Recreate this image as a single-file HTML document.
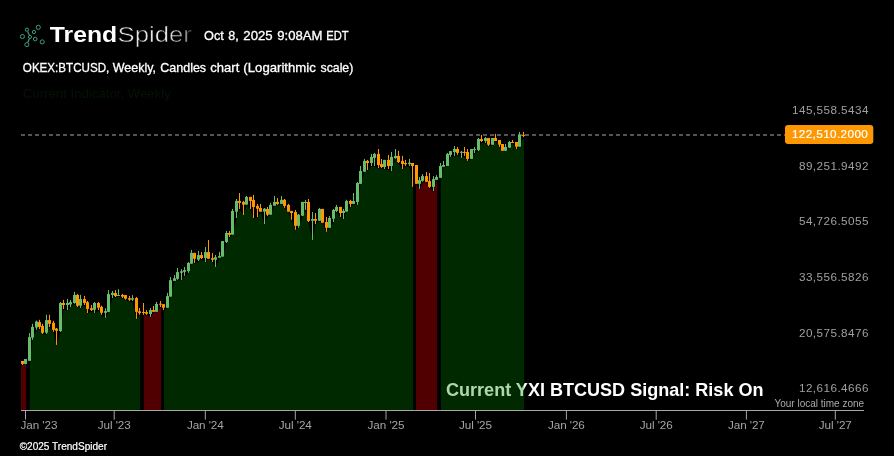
<!DOCTYPE html>
<html><head><meta charset="utf-8"><title>TrendSpider chart</title>
<style>
html,body{margin:0;padding:0;background:#000;}
body{width:894px;height:456px;overflow:hidden;font-family:"Liberation Sans",sans-serif;}
svg{display:block;will-change:transform;}
text{font-family:"Liberation Sans",sans-serif;}
.tl{font-size:11.7px;fill:#a4a4a4;letter-spacing:-0.08px}
.yl{font-size:11.7px;fill:#a0a0a0;letter-spacing:0.45px}
</style></head><body>
<svg width="894" height="456" viewBox="0 0 894 456">
<!-- logo -->
<path d="M27.6 31.4 L29.4 35.3 M29.3 38.5 L27.8 42.5" stroke="#3f9f84" stroke-width="1.2" fill="none"/>
<circle cx="26.9" cy="29.7" r="1.65" fill="none" stroke="#3f9f84" stroke-width="1"/>
<circle cx="38.3" cy="27.3" r="2.05" fill="none" stroke="#3f9f84" stroke-width="1"/>
<circle cx="33.9" cy="32.0" r="1.65" fill="none" stroke="#3f9f84" stroke-width="1"/>
<circle cx="22.4" cy="36.5" r="2.05" fill="none" stroke="#3f9f84" stroke-width="1"/>
<circle cx="30.0" cy="36.9" r="1.55" fill="none" stroke="#3f9f84" stroke-width="1"/>
<circle cx="35.2" cy="39.0" r="1.85" fill="none" stroke="#3f9f84" stroke-width="1"/>
<circle cx="42.2" cy="41.9" r="2.05" fill="none" stroke="#3f9f84" stroke-width="1"/>
<circle cx="26.9" cy="44.6" r="2.05" fill="none" stroke="#3f9f84" stroke-width="1"/>
<text x="49.8" y="42.0" font-size="22.2" font-weight="bold" fill="#fff" textLength="67.3" lengthAdjust="spacingAndGlyphs">Trend</text>
<defs><linearGradient id="sg" gradientUnits="userSpaceOnUse" x1="168" y1="0" x2="191" y2="0"><stop offset="0" stop-color="#e6e6e6"/><stop offset="1" stop-color="#7c7c7c"/></linearGradient></defs>
<text x="117.6" y="42.0" font-size="22" fill="url(#sg)" stroke="#000" stroke-width="0.5" textLength="74.2" lengthAdjust="spacingAndGlyphs">Spider</text>
<text x="204.00" y="39.8" font-size="12.4" fill="#fff" stroke="#fff" stroke-width="0.3" textLength="19.77" lengthAdjust="spacingAndGlyphs">Oct</text>
<text x="228.15" y="39.8" font-size="12.4" fill="#fff" stroke="#fff" stroke-width="0.3" textLength="10.53" lengthAdjust="spacingAndGlyphs">8,</text>
<text x="243.37" y="39.8" font-size="12.4" fill="#fff" stroke="#fff" stroke-width="0.3" textLength="29.31" lengthAdjust="spacingAndGlyphs">2025</text>
<text x="277.34" y="39.8" font-size="12.4" fill="#fff" stroke="#fff" stroke-width="0.3" textLength="45.18" lengthAdjust="spacingAndGlyphs">9:08AM</text>
<text x="326.21" y="39.8" font-size="12.4" fill="#fff" stroke="#fff" stroke-width="0.3" textLength="22.36" lengthAdjust="spacingAndGlyphs">EDT</text>
<text x="22.85" y="71.7" font-size="12.2" fill="#fff" stroke="#fff" stroke-width="0.3" textLength="86.46" lengthAdjust="spacingAndGlyphs">OKEX:BTCUSD,</text>
<text x="112.69" y="71.7" font-size="12.2" fill="#fff" stroke="#fff" stroke-width="0.3" textLength="43.31" lengthAdjust="spacingAndGlyphs">Weekly,</text>
<text x="160.26" y="71.7" font-size="12.2" fill="#fff" stroke="#fff" stroke-width="0.3" textLength="45.86" lengthAdjust="spacingAndGlyphs">Candles</text>
<text x="210.37" y="71.7" font-size="12.2" fill="#fff" stroke="#fff" stroke-width="0.3" textLength="28.98" lengthAdjust="spacingAndGlyphs">chart</text>
<text x="243.39" y="71.7" font-size="12.2" fill="#fff" stroke="#fff" stroke-width="0.3" textLength="72.47" lengthAdjust="spacingAndGlyphs">(Logarithmic</text>
<text x="320.50" y="71.7" font-size="12.2" fill="#fff" stroke="#fff" stroke-width="0.3" textLength="32.81" lengthAdjust="spacingAndGlyphs">scale)</text>
<text x="22.8" y="97.7" font-size="13" fill="#041305" textLength="148" lengthAdjust="spacingAndGlyphs">Current Indicator, Weekly</text>
<!-- dashed price line -->
<line x1="21" y1="135" x2="785" y2="135" stroke="#aaaaaa" stroke-width="1" stroke-dasharray="4 3"/>
<!-- signal text (under fill) -->
<text x="446" y="396.3" font-size="17.8" font-weight="bold" fill="#fff" textLength="317.5" lengthAdjust="spacingAndGlyphs">Current YXI BTCUSD Signal: Risk On</text>
<!-- fills -->
<path d="M21.0 410.4 L21.0 365.4 L25.5 364.8 L26.1 364.8 L26.1 410.4Z" fill="rgba(255,0,0,0.315)"/>
<path d="M29.9 410.4 L29.9 361.2 L32.5 340.3 L36.5 330.2 L39.5 329.4 L42.5 334.4 L46.5 334.4 L49.5 327.4 L53.5 332.2 L56.5 345.3 L60.5 332.4 L63.5 309.4 L67.5 310.4 L70.5 307.6 L74.5 304.1 L77.5 307.4 L80.5 308.4 L84.5 305.4 L87.5 313.4 L91.5 311.4 L94.5 313.4 L98.5 310.4 L101.5 315.2 L105.5 318.2 L108.5 312.2 L112.5 298.4 L115.5 297.4 L118.5 296.3 L122.5 298.4 L125.5 300.1 L129.5 301.4 L132.5 301.4 L136.5 319.2 L139.5 315.2 L140.1 315.2 L140.1 410.4Z" fill="rgba(0,128,0,0.32)"/>
<path d="M143.9 410.4 L143.9 315.2 L146.5 315.2 L150.5 317.2 L153.5 312.2 L156.5 312.2 L160.5 307.4 L161.1 307.4 L161.1 410.4Z" fill="rgba(255,0,0,0.315)"/>
<path d="M163.9 410.4 L163.9 310.5 L167.5 308.1 L170.5 297.0 L174.5 281.3 L177.5 280.3 L181.5 280.3 L184.5 276.2 L188.5 273.2 L191.5 264.1 L194.5 263.4 L198.5 261.4 L201.5 259.4 L205.5 262.4 L208.5 259.1 L212.5 262.4 L215.5 267.4 L219.5 258.1 L222.5 257.0 L226.5 243.4 L229.5 237.4 L232.5 235.0 L236.5 218.4 L239.5 209.4 L243.5 215.4 L246.5 205.0 L250.5 209.4 L253.5 218.4 L257.5 217.4 L260.5 212.1 L264.5 224.5 L267.5 216.4 L270.5 215.1 L274.5 206.1 L277.5 205.3 L281.5 204.3 L284.5 208.3 L288.5 212.0 L291.5 220.1 L295.5 230.2 L298.5 228.2 L302.5 216.1 L305.5 210.3 L308.5 222.4 L312.5 240.3 L315.5 224.5 L319.5 221.1 L322.5 223.1 L326.5 232.2 L329.5 228.2 L333.5 222.4 L336.5 212.4 L340.5 217.4 L343.5 219.4 L346.5 212.0 L350.5 207.3 L353.5 204.3 L357.5 205.3 L360.5 184.2 L364.5 172.1 L367.5 170.4 L371.5 166.4 L374.5 166.4 L378.5 168.4 L381.5 168.4 L384.5 169.4 L388.5 169.4 L391.5 171.4 L395.5 159.3 L398.5 163.4 L402.5 169.4 L405.5 166.4 L409.5 166.4 L412.5 187.3 L413.1 187.3 L413.1 410.4Z" fill="rgba(0,128,0,0.32)"/>
<path d="M416.0 410.4 L416.0 184.2 L419.5 189.3 L422.5 182.2 L426.5 182.2 L429.5 188.3 L433.5 191.4 L436.5 180.2 L437.1 180.2 L437.1 410.4Z" fill="rgba(255,0,0,0.315)"/>
<path d="M440.9 410.4 L440.9 178.2 L443.5 167.1 L447.5 166.4 L450.5 157.3 L454.5 156.3 L457.5 155.3 L461.5 158.3 L464.5 156.3 L467.5 161.3 L471.5 159.3 L474.5 153.4 L478.5 151.5 L481.5 142.4 L485.5 143.4 L488.5 146.4 L492.5 145.1 L495.5 141.4 L499.5 147.4 L502.5 151.2 L505.5 151.2 L509.5 148.1 L512.5 143.4 L516.5 149.5 L519.5 147.1 L523.5 137.4 L524.1 137.4 L524.1 410.4Z" fill="rgba(0,128,0,0.32)"/>
<!-- candles -->
<rect x="22.0" y="361.0" width="1" height="4.0" fill="#ff9800"/>
<rect x="21.0" y="361.0" width="3" height="2.9" fill="#ff9800"/>
<rect x="25.0" y="359.0" width="1" height="5.4" fill="#68bd6c"/>
<rect x="24.0" y="359.0" width="3" height="4.9" fill="#68bd6c"/>
<rect x="29.0" y="333.1" width="1" height="27.7" fill="#68bd6c"/>
<rect x="28.0" y="337.1" width="3" height="23.7" fill="#68bd6c"/>
<rect x="32.0" y="323.8" width="1" height="16.1" fill="#68bd6c"/>
<rect x="31.0" y="326.9" width="3" height="10.7" fill="#68bd6c"/>
<rect x="36.0" y="320.5" width="1" height="9.3" fill="#68bd6c"/>
<rect x="35.0" y="321.5" width="3" height="6.0" fill="#68bd6c"/>
<rect x="39.0" y="319.8" width="1" height="9.2" fill="#ff9800"/>
<rect x="38.0" y="322.1" width="3" height="4.8" fill="#ff9800"/>
<rect x="42.0" y="323.8" width="1" height="10.2" fill="#ff9800"/>
<rect x="41.0" y="325.9" width="3" height="6.9" fill="#ff9800"/>
<rect x="46.0" y="314.8" width="1" height="19.2" fill="#68bd6c"/>
<rect x="45.0" y="320.1" width="3" height="12.5" fill="#68bd6c"/>
<rect x="49.0" y="314.8" width="1" height="12.2" fill="#ff9800"/>
<rect x="48.0" y="320.1" width="3" height="3.7" fill="#ff9800"/>
<rect x="53.0" y="320.8" width="1" height="11.0" fill="#ff9800"/>
<rect x="52.0" y="322.8" width="3" height="7.0" fill="#ff9800"/>
<rect x="56.0" y="328.0" width="1" height="16.9" fill="#ff9800"/>
<rect x="55.0" y="328.6" width="3" height="2.2" fill="#ff9800"/>
<rect x="60.0" y="302.0" width="1" height="30.0" fill="#68bd6c"/>
<rect x="59.0" y="303.0" width="3" height="28.0" fill="#68bd6c"/>
<rect x="63.0" y="299.9" width="1" height="9.1" fill="#ff9800"/>
<rect x="62.0" y="303.0" width="3" height="2.0" fill="#ff9800"/>
<rect x="67.0" y="298.9" width="1" height="11.1" fill="#68bd6c"/>
<rect x="66.0" y="303.0" width="3" height="2.0" fill="#68bd6c"/>
<rect x="70.0" y="300.1" width="1" height="7.1" fill="#68bd6c"/>
<rect x="69.0" y="302.2" width="3" height="2.2" fill="#68bd6c"/>
<rect x="74.0" y="291.9" width="1" height="11.8" fill="#68bd6c"/>
<rect x="73.0" y="294.9" width="3" height="8.1" fill="#68bd6c"/>
<rect x="77.0" y="293.9" width="1" height="13.1" fill="#ff9800"/>
<rect x="76.0" y="294.9" width="3" height="10.8" fill="#ff9800"/>
<rect x="80.0" y="294.9" width="1" height="13.1" fill="#68bd6c"/>
<rect x="79.0" y="299.1" width="3" height="6.6" fill="#68bd6c"/>
<rect x="84.0" y="295.9" width="1" height="9.1" fill="#ff9800"/>
<rect x="83.0" y="299.1" width="3" height="3.9" fill="#ff9800"/>
<rect x="87.0" y="300.9" width="1" height="12.1" fill="#ff9800"/>
<rect x="86.0" y="302.2" width="3" height="6.8" fill="#ff9800"/>
<rect x="91.0" y="305.0" width="1" height="6.0" fill="#ff9800"/>
<rect x="90.0" y="308.2" width="3" height="1.8" fill="#ff9800"/>
<rect x="94.0" y="302.0" width="1" height="11.0" fill="#68bd6c"/>
<rect x="93.0" y="303.0" width="3" height="6.7" fill="#68bd6c"/>
<rect x="98.0" y="302.0" width="1" height="8.0" fill="#ff9800"/>
<rect x="97.0" y="303.0" width="3" height="4.7" fill="#ff9800"/>
<rect x="101.0" y="305.7" width="1" height="9.1" fill="#ff9800"/>
<rect x="100.0" y="306.8" width="3" height="6.0" fill="#ff9800"/>
<rect x="105.0" y="308.3" width="1" height="9.5" fill="#68bd6c"/>
<rect x="104.0" y="311.1" width="3" height="1.7" fill="#68bd6c"/>
<rect x="108.0" y="290.1" width="1" height="21.7" fill="#68bd6c"/>
<rect x="107.0" y="294.1" width="3" height="17.7" fill="#68bd6c"/>
<rect x="112.0" y="290.9" width="1" height="7.1" fill="#68bd6c"/>
<rect x="111.0" y="292.9" width="3" height="2.0" fill="#68bd6c"/>
<rect x="115.0" y="290.1" width="1" height="6.9" fill="#ff9800"/>
<rect x="114.0" y="293.1" width="3" height="3.0" fill="#ff9800"/>
<rect x="118.0" y="289.1" width="1" height="6.8" fill="#68bd6c"/>
<rect x="117.0" y="295.0" width="3" height="1.0" fill="#68bd6c"/>
<rect x="122.0" y="293.9" width="1" height="4.1" fill="#ff9800"/>
<rect x="121.0" y="294.9" width="3" height="1.7" fill="#ff9800"/>
<rect x="125.0" y="295.1" width="1" height="4.6" fill="#ff9800"/>
<rect x="124.0" y="295.1" width="3" height="3.6" fill="#ff9800"/>
<rect x="129.0" y="295.9" width="1" height="5.1" fill="#ff9800"/>
<rect x="128.0" y="298.2" width="3" height="1.5" fill="#ff9800"/>
<rect x="132.0" y="295.1" width="1" height="5.9" fill="#68bd6c"/>
<rect x="131.0" y="298.2" width="3" height="1.5" fill="#68bd6c"/>
<rect x="136.0" y="297.0" width="1" height="21.8" fill="#ff9800"/>
<rect x="135.0" y="298.0" width="3" height="13.8" fill="#ff9800"/>
<rect x="139.0" y="308.0" width="1" height="6.8" fill="#ff9800"/>
<rect x="138.0" y="311.3" width="3" height="1.8" fill="#ff9800"/>
<rect x="143.0" y="303.0" width="1" height="11.8" fill="#ff9800"/>
<rect x="142.0" y="312.0" width="3" height="1.0" fill="#ff9800"/>
<rect x="146.0" y="310.1" width="1" height="4.7" fill="#ff9800"/>
<rect x="145.0" y="312.1" width="3" height="1.7" fill="#ff9800"/>
<rect x="150.0" y="308.0" width="1" height="8.8" fill="#68bd6c"/>
<rect x="149.0" y="310.1" width="3" height="4.0" fill="#68bd6c"/>
<rect x="153.0" y="306.0" width="1" height="5.8" fill="#ff9800"/>
<rect x="152.0" y="310.1" width="3" height="1.7" fill="#ff9800"/>
<rect x="156.0" y="302.0" width="1" height="9.8" fill="#68bd6c"/>
<rect x="155.0" y="304.0" width="3" height="7.8" fill="#68bd6c"/>
<rect x="160.0" y="301.0" width="1" height="6.0" fill="#ff9800"/>
<rect x="159.0" y="303.7" width="3" height="1.0" fill="#ff9800"/>
<rect x="163.0" y="304.2" width="1" height="5.9" fill="#ff9800"/>
<rect x="162.0" y="304.2" width="3" height="3.5" fill="#ff9800"/>
<rect x="167.0" y="292.9" width="1" height="14.8" fill="#68bd6c"/>
<rect x="166.0" y="296.1" width="3" height="11.6" fill="#68bd6c"/>
<rect x="170.0" y="277.1" width="1" height="19.5" fill="#68bd6c"/>
<rect x="169.0" y="280.2" width="3" height="16.4" fill="#68bd6c"/>
<rect x="174.0" y="275.1" width="1" height="5.8" fill="#68bd6c"/>
<rect x="173.0" y="278.3" width="3" height="2.6" fill="#68bd6c"/>
<rect x="177.0" y="268.0" width="1" height="11.9" fill="#68bd6c"/>
<rect x="176.0" y="272.1" width="3" height="6.7" fill="#68bd6c"/>
<rect x="181.0" y="269.1" width="1" height="10.8" fill="#68bd6c"/>
<rect x="180.0" y="271.3" width="3" height="1.5" fill="#68bd6c"/>
<rect x="184.0" y="267.0" width="1" height="8.8" fill="#68bd6c"/>
<rect x="183.0" y="270.1" width="3" height="1.7" fill="#68bd6c"/>
<rect x="188.0" y="262.0" width="1" height="10.8" fill="#68bd6c"/>
<rect x="187.0" y="263.0" width="3" height="8.1" fill="#68bd6c"/>
<rect x="191.0" y="249.9" width="1" height="13.8" fill="#68bd6c"/>
<rect x="190.0" y="252.9" width="3" height="10.8" fill="#68bd6c"/>
<rect x="194.0" y="252.9" width="1" height="10.1" fill="#ff9800"/>
<rect x="193.0" y="252.9" width="3" height="5.8" fill="#ff9800"/>
<rect x="198.0" y="250.9" width="1" height="10.1" fill="#68bd6c"/>
<rect x="197.0" y="255.1" width="3" height="4.6" fill="#68bd6c"/>
<rect x="201.0" y="251.9" width="1" height="7.1" fill="#ff9800"/>
<rect x="200.0" y="255.1" width="3" height="2.9" fill="#ff9800"/>
<rect x="205.0" y="246.9" width="1" height="15.1" fill="#68bd6c"/>
<rect x="204.0" y="252.1" width="3" height="5.9" fill="#68bd6c"/>
<rect x="208.0" y="240.0" width="1" height="18.7" fill="#ff9800"/>
<rect x="207.0" y="252.1" width="3" height="6.6" fill="#ff9800"/>
<rect x="212.0" y="252.9" width="1" height="9.1" fill="#ff9800"/>
<rect x="211.0" y="258.2" width="3" height="1.5" fill="#ff9800"/>
<rect x="215.0" y="254.9" width="1" height="12.1" fill="#68bd6c"/>
<rect x="214.0" y="257.2" width="3" height="2.5" fill="#68bd6c"/>
<rect x="219.0" y="251.9" width="1" height="5.8" fill="#68bd6c"/>
<rect x="218.0" y="256.1" width="3" height="1.6" fill="#68bd6c"/>
<rect x="222.0" y="241.0" width="1" height="15.6" fill="#68bd6c"/>
<rect x="221.0" y="241.0" width="3" height="15.6" fill="#68bd6c"/>
<rect x="226.0" y="230.9" width="1" height="12.1" fill="#68bd6c"/>
<rect x="225.0" y="233.0" width="3" height="9.0" fill="#68bd6c"/>
<rect x="229.0" y="230.9" width="1" height="6.1" fill="#ff9800"/>
<rect x="228.0" y="233.0" width="3" height="1.8" fill="#ff9800"/>
<rect x="232.0" y="209.0" width="1" height="25.6" fill="#68bd6c"/>
<rect x="231.0" y="211.0" width="3" height="23.6" fill="#68bd6c"/>
<rect x="236.0" y="198.9" width="1" height="19.1" fill="#68bd6c"/>
<rect x="235.0" y="200.9" width="3" height="10.8" fill="#68bd6c"/>
<rect x="239.0" y="193.0" width="1" height="16.0" fill="#ff9800"/>
<rect x="238.0" y="200.9" width="3" height="2.0" fill="#ff9800"/>
<rect x="243.0" y="200.9" width="1" height="14.1" fill="#ff9800"/>
<rect x="242.0" y="201.9" width="3" height="2.7" fill="#ff9800"/>
<rect x="246.0" y="195.9" width="1" height="8.7" fill="#68bd6c"/>
<rect x="245.0" y="196.9" width="3" height="7.7" fill="#68bd6c"/>
<rect x="250.0" y="196.9" width="1" height="12.1" fill="#ff9800"/>
<rect x="249.0" y="196.9" width="3" height="4.0" fill="#ff9800"/>
<rect x="253.0" y="194.8" width="1" height="23.2" fill="#ff9800"/>
<rect x="252.0" y="199.9" width="3" height="7.1" fill="#ff9800"/>
<rect x="257.0" y="203.9" width="1" height="13.1" fill="#ff9800"/>
<rect x="256.0" y="205.9" width="3" height="2.8" fill="#ff9800"/>
<rect x="260.0" y="203.9" width="1" height="7.8" fill="#ff9800"/>
<rect x="259.0" y="208.0" width="3" height="3.7" fill="#ff9800"/>
<rect x="264.0" y="208.0" width="1" height="16.1" fill="#68bd6c"/>
<rect x="263.0" y="208.7" width="3" height="3.0" fill="#68bd6c"/>
<rect x="267.0" y="207.0" width="1" height="9.0" fill="#ff9800"/>
<rect x="266.0" y="209.0" width="3" height="5.7" fill="#ff9800"/>
<rect x="270.0" y="202.9" width="1" height="11.8" fill="#68bd6c"/>
<rect x="269.0" y="204.9" width="3" height="9.8" fill="#68bd6c"/>
<rect x="274.0" y="195.9" width="1" height="9.8" fill="#68bd6c"/>
<rect x="273.0" y="201.9" width="3" height="3.8" fill="#68bd6c"/>
<rect x="277.0" y="197.9" width="1" height="7.0" fill="#ff9800"/>
<rect x="276.0" y="201.9" width="3" height="2.0" fill="#ff9800"/>
<rect x="281.0" y="195.9" width="1" height="8.0" fill="#68bd6c"/>
<rect x="280.0" y="199.8" width="3" height="4.1" fill="#68bd6c"/>
<rect x="284.0" y="199.0" width="1" height="8.9" fill="#ff9800"/>
<rect x="283.0" y="199.8" width="3" height="6.1" fill="#ff9800"/>
<rect x="288.0" y="203.9" width="1" height="7.7" fill="#ff9800"/>
<rect x="287.0" y="204.9" width="3" height="6.7" fill="#ff9800"/>
<rect x="291.0" y="210.9" width="1" height="8.8" fill="#ff9800"/>
<rect x="290.0" y="210.9" width="3" height="2.1" fill="#ff9800"/>
<rect x="295.0" y="209.9" width="1" height="19.9" fill="#ff9800"/>
<rect x="294.0" y="212.0" width="3" height="13.8" fill="#ff9800"/>
<rect x="298.0" y="214.0" width="1" height="13.8" fill="#68bd6c"/>
<rect x="297.0" y="214.7" width="3" height="11.1" fill="#68bd6c"/>
<rect x="302.0" y="201.9" width="1" height="13.8" fill="#68bd6c"/>
<rect x="301.0" y="201.9" width="3" height="13.8" fill="#68bd6c"/>
<rect x="305.0" y="200.0" width="1" height="9.9" fill="#68bd6c"/>
<rect x="304.0" y="202.0" width="3" height="1.0" fill="#68bd6c"/>
<rect x="308.0" y="199.0" width="1" height="23.0" fill="#ff9800"/>
<rect x="307.0" y="202.0" width="3" height="19.0" fill="#ff9800"/>
<rect x="312.0" y="212.0" width="1" height="27.9" fill="#68bd6c"/>
<rect x="311.0" y="219.0" width="3" height="1.7" fill="#68bd6c"/>
<rect x="315.0" y="213.0" width="1" height="11.1" fill="#ff9800"/>
<rect x="314.0" y="219.0" width="3" height="1.7" fill="#ff9800"/>
<rect x="319.0" y="207.9" width="1" height="12.8" fill="#68bd6c"/>
<rect x="318.0" y="208.9" width="3" height="11.8" fill="#68bd6c"/>
<rect x="322.0" y="208.9" width="1" height="13.8" fill="#ff9800"/>
<rect x="321.0" y="208.9" width="3" height="13.8" fill="#ff9800"/>
<rect x="326.0" y="217.0" width="1" height="14.8" fill="#ff9800"/>
<rect x="325.0" y="222.0" width="3" height="5.8" fill="#ff9800"/>
<rect x="329.0" y="216.0" width="1" height="11.8" fill="#68bd6c"/>
<rect x="328.0" y="218.0" width="3" height="9.8" fill="#68bd6c"/>
<rect x="333.0" y="208.9" width="1" height="13.1" fill="#68bd6c"/>
<rect x="332.0" y="209.9" width="3" height="8.8" fill="#68bd6c"/>
<rect x="336.0" y="204.9" width="1" height="7.1" fill="#68bd6c"/>
<rect x="335.0" y="206.9" width="3" height="4.0" fill="#68bd6c"/>
<rect x="340.0" y="206.9" width="1" height="10.1" fill="#ff9800"/>
<rect x="339.0" y="206.9" width="3" height="6.1" fill="#ff9800"/>
<rect x="343.0" y="208.9" width="1" height="10.1" fill="#68bd6c"/>
<rect x="342.0" y="210.9" width="3" height="2.1" fill="#68bd6c"/>
<rect x="346.0" y="199.8" width="1" height="11.8" fill="#68bd6c"/>
<rect x="345.0" y="200.9" width="3" height="10.7" fill="#68bd6c"/>
<rect x="350.0" y="199.8" width="1" height="7.1" fill="#ff9800"/>
<rect x="349.0" y="200.9" width="3" height="3.0" fill="#ff9800"/>
<rect x="353.0" y="193.0" width="1" height="10.9" fill="#68bd6c"/>
<rect x="352.0" y="201.0" width="3" height="2.9" fill="#68bd6c"/>
<rect x="357.0" y="182.0" width="1" height="22.9" fill="#68bd6c"/>
<rect x="356.0" y="183.0" width="3" height="18.9" fill="#68bd6c"/>
<rect x="360.0" y="166.0" width="1" height="17.8" fill="#68bd6c"/>
<rect x="359.0" y="171.0" width="3" height="12.8" fill="#68bd6c"/>
<rect x="364.0" y="158.9" width="1" height="12.8" fill="#68bd6c"/>
<rect x="363.0" y="160.9" width="3" height="10.8" fill="#68bd6c"/>
<rect x="367.0" y="159.9" width="1" height="10.1" fill="#ff9800"/>
<rect x="366.0" y="160.9" width="3" height="2.1" fill="#ff9800"/>
<rect x="371.0" y="153.9" width="1" height="12.1" fill="#68bd6c"/>
<rect x="370.0" y="156.9" width="3" height="6.1" fill="#68bd6c"/>
<rect x="374.0" y="152.9" width="1" height="13.1" fill="#68bd6c"/>
<rect x="373.0" y="153.9" width="3" height="4.0" fill="#68bd6c"/>
<rect x="378.0" y="149.0" width="1" height="19.0" fill="#ff9800"/>
<rect x="377.0" y="153.9" width="3" height="11.1" fill="#ff9800"/>
<rect x="381.0" y="158.9" width="1" height="9.1" fill="#ff9800"/>
<rect x="380.0" y="164.0" width="3" height="3.0" fill="#ff9800"/>
<rect x="384.0" y="159.9" width="1" height="9.1" fill="#68bd6c"/>
<rect x="383.0" y="159.9" width="3" height="7.1" fill="#68bd6c"/>
<rect x="388.0" y="154.9" width="1" height="14.1" fill="#ff9800"/>
<rect x="387.0" y="159.9" width="3" height="6.1" fill="#ff9800"/>
<rect x="391.0" y="151.9" width="1" height="19.1" fill="#68bd6c"/>
<rect x="390.0" y="156.9" width="3" height="9.1" fill="#68bd6c"/>
<rect x="395.0" y="149.0" width="1" height="9.9" fill="#68bd6c"/>
<rect x="394.0" y="155.9" width="3" height="2.2" fill="#68bd6c"/>
<rect x="398.0" y="150.9" width="1" height="12.1" fill="#ff9800"/>
<rect x="397.0" y="155.9" width="3" height="6.1" fill="#ff9800"/>
<rect x="402.0" y="155.9" width="1" height="13.1" fill="#ff9800"/>
<rect x="401.0" y="160.9" width="3" height="3.1" fill="#ff9800"/>
<rect x="405.0" y="159.9" width="1" height="6.1" fill="#ff9800"/>
<rect x="404.0" y="163.0" width="3" height="1.2" fill="#ff9800"/>
<rect x="409.0" y="158.9" width="1" height="7.1" fill="#68bd6c"/>
<rect x="408.0" y="162.7" width="3" height="1.5" fill="#68bd6c"/>
<rect x="412.0" y="163.0" width="1" height="23.9" fill="#ff9800"/>
<rect x="411.0" y="163.0" width="3" height="3.0" fill="#ff9800"/>
<rect x="416.0" y="165.0" width="1" height="18.8" fill="#ff9800"/>
<rect x="415.0" y="165.0" width="3" height="18.8" fill="#ff9800"/>
<rect x="419.0" y="177.1" width="1" height="11.8" fill="#68bd6c"/>
<rect x="418.0" y="180.1" width="3" height="3.7" fill="#68bd6c"/>
<rect x="422.0" y="174.1" width="1" height="7.7" fill="#68bd6c"/>
<rect x="421.0" y="176.1" width="3" height="4.7" fill="#68bd6c"/>
<rect x="426.0" y="172.0" width="1" height="9.8" fill="#ff9800"/>
<rect x="425.0" y="176.1" width="3" height="5.7" fill="#ff9800"/>
<rect x="429.0" y="173.0" width="1" height="14.9" fill="#ff9800"/>
<rect x="428.0" y="181.1" width="3" height="5.8" fill="#ff9800"/>
<rect x="433.0" y="176.1" width="1" height="14.9" fill="#68bd6c"/>
<rect x="432.0" y="179.1" width="3" height="7.8" fill="#68bd6c"/>
<rect x="436.0" y="175.1" width="1" height="4.7" fill="#68bd6c"/>
<rect x="435.0" y="177.1" width="3" height="2.7" fill="#68bd6c"/>
<rect x="440.0" y="163.0" width="1" height="14.8" fill="#68bd6c"/>
<rect x="439.0" y="166.0" width="3" height="11.8" fill="#68bd6c"/>
<rect x="443.0" y="160.9" width="1" height="5.8" fill="#68bd6c"/>
<rect x="442.0" y="165.0" width="3" height="1.7" fill="#68bd6c"/>
<rect x="447.0" y="152.9" width="1" height="13.1" fill="#68bd6c"/>
<rect x="446.0" y="153.9" width="3" height="12.1" fill="#68bd6c"/>
<rect x="450.0" y="151.1" width="1" height="5.8" fill="#68bd6c"/>
<rect x="449.0" y="151.1" width="3" height="3.8" fill="#68bd6c"/>
<rect x="454.0" y="146.0" width="1" height="9.9" fill="#68bd6c"/>
<rect x="453.0" y="149.0" width="3" height="3.0" fill="#68bd6c"/>
<rect x="457.0" y="147.0" width="1" height="7.9" fill="#ff9800"/>
<rect x="456.0" y="149.0" width="3" height="3.9" fill="#ff9800"/>
<rect x="461.0" y="150.9" width="1" height="7.0" fill="#68bd6c"/>
<rect x="460.0" y="151.8" width="3" height="1.0" fill="#68bd6c"/>
<rect x="464.0" y="147.0" width="1" height="8.9" fill="#ff9800"/>
<rect x="463.0" y="151.9" width="3" height="1.0" fill="#ff9800"/>
<rect x="467.0" y="149.0" width="1" height="11.9" fill="#ff9800"/>
<rect x="466.0" y="152.0" width="3" height="6.9" fill="#ff9800"/>
<rect x="471.0" y="149.0" width="1" height="9.9" fill="#68bd6c"/>
<rect x="470.0" y="149.0" width="3" height="9.9" fill="#68bd6c"/>
<rect x="474.0" y="147.0" width="1" height="6.0" fill="#68bd6c"/>
<rect x="473.0" y="149.2" width="3" height="1.0" fill="#68bd6c"/>
<rect x="478.0" y="138.0" width="1" height="13.1" fill="#68bd6c"/>
<rect x="477.0" y="139.0" width="3" height="11.1" fill="#68bd6c"/>
<rect x="481.0" y="134.9" width="1" height="7.1" fill="#ff9800"/>
<rect x="480.0" y="139.0" width="3" height="2.0" fill="#ff9800"/>
<rect x="485.0" y="137.0" width="1" height="6.0" fill="#68bd6c"/>
<rect x="484.0" y="138.0" width="3" height="3.0" fill="#68bd6c"/>
<rect x="488.0" y="138.0" width="1" height="8.0" fill="#ff9800"/>
<rect x="487.0" y="138.0" width="3" height="6.7" fill="#ff9800"/>
<rect x="492.0" y="138.0" width="1" height="6.7" fill="#68bd6c"/>
<rect x="491.0" y="138.0" width="3" height="6.7" fill="#68bd6c"/>
<rect x="495.0" y="133.9" width="1" height="7.1" fill="#ff9800"/>
<rect x="494.0" y="138.0" width="3" height="3.0" fill="#ff9800"/>
<rect x="499.0" y="140.0" width="1" height="7.0" fill="#ff9800"/>
<rect x="498.0" y="140.0" width="3" height="4.7" fill="#ff9800"/>
<rect x="502.0" y="144.0" width="1" height="6.8" fill="#ff9800"/>
<rect x="501.0" y="144.0" width="3" height="6.8" fill="#ff9800"/>
<rect x="505.0" y="144.0" width="1" height="6.8" fill="#68bd6c"/>
<rect x="504.0" y="147.0" width="3" height="3.8" fill="#68bd6c"/>
<rect x="509.0" y="141.0" width="1" height="6.7" fill="#68bd6c"/>
<rect x="508.0" y="142.0" width="3" height="5.7" fill="#68bd6c"/>
<rect x="512.0" y="140.0" width="1" height="3.0" fill="#ff9800"/>
<rect x="511.0" y="142.0" width="3" height="1.0" fill="#ff9800"/>
<rect x="516.0" y="142.0" width="1" height="7.1" fill="#ff9800"/>
<rect x="515.0" y="142.0" width="3" height="4.7" fill="#ff9800"/>
<rect x="519.0" y="131.9" width="1" height="14.8" fill="#68bd6c"/>
<rect x="518.0" y="134.9" width="3" height="11.8" fill="#68bd6c"/>
<rect x="523.0" y="131.9" width="1" height="5.1" fill="#ff9800"/>
<rect x="522.0" y="134.9" width="3" height="1.0" fill="#ff9800"/>
<!-- axes -->
<rect x="21" y="410" width="843" height="1" fill="#a8a8a8"/>
<rect x="25.0" y="410" width="1" height="9.6" fill="#a6a6a6"/>
<text x="20.6" y="429.1" class="tl" text-anchor="start">Jan '23</text>
<rect x="113.7" y="410" width="1" height="9.6" fill="#a6a6a6"/>
<text x="114.2" y="429.1" class="tl" text-anchor="middle">Jul '23</text>
<rect x="204.8" y="410" width="1" height="9.6" fill="#a6a6a6"/>
<text x="205.3" y="429.1" class="tl" text-anchor="middle">Jan '24</text>
<rect x="294.8" y="410" width="1" height="9.6" fill="#a6a6a6"/>
<text x="295.3" y="429.1" class="tl" text-anchor="middle">Jul '24</text>
<rect x="385.5" y="410" width="1" height="9.6" fill="#a6a6a6"/>
<text x="386.0" y="429.1" class="tl" text-anchor="middle">Jan '25</text>
<rect x="475.0" y="410" width="1" height="9.6" fill="#a6a6a6"/>
<text x="475.5" y="429.1" class="tl" text-anchor="middle">Jul '25</text>
<rect x="565.9" y="410" width="1" height="9.6" fill="#a6a6a6"/>
<text x="566.4" y="429.1" class="tl" text-anchor="middle">Jan '26</text>
<rect x="655.7" y="410" width="1" height="9.6" fill="#a6a6a6"/>
<text x="656.2" y="429.1" class="tl" text-anchor="middle">Jul '26</text>
<rect x="745.9" y="410" width="1" height="9.6" fill="#a6a6a6"/>
<text x="746.4" y="429.1" class="tl" text-anchor="middle">Jan '27</text>
<rect x="834.8" y="410" width="1" height="9.6" fill="#a6a6a6"/>
<text x="835.3" y="429.1" class="tl" text-anchor="middle">Jul '27</text>
<text x="868.9" y="114.1" class="yl" text-anchor="end">145,558.5434</text>
<text x="868.9" y="170.1" class="yl" text-anchor="end">89,251.9492</text>
<text x="868.9" y="225.2" class="yl" text-anchor="end">54,726.5055</text>
<text x="868.9" y="280.9" class="yl" text-anchor="end">33,556.5826</text>
<text x="868.9" y="336.7" class="yl" text-anchor="end">20,575.8476</text>
<text x="868.9" y="391.7" class="yl" text-anchor="end">12,616.4666</text>
<rect x="785" y="125" width="88.3" height="19" rx="3.2" fill="#ff9800"/>
<text x="868.2" y="138.2" font-size="11.7" fill="#fff" text-anchor="end" letter-spacing="0.40" stroke="#fff" stroke-width="0.2">122,510.2000</text>
<text x="774.4" y="407" font-size="10" fill="#a9a9a9" textLength="89.8" lengthAdjust="spacingAndGlyphs">Your local time zone</text>
<text x="19.7" y="449.9" font-size="10" fill="#fff" stroke="#fff" stroke-width="0.2" textLength="87.3" lengthAdjust="spacingAndGlyphs">&#169;2025 TrendSpider</text>
</svg>
</body></html>
